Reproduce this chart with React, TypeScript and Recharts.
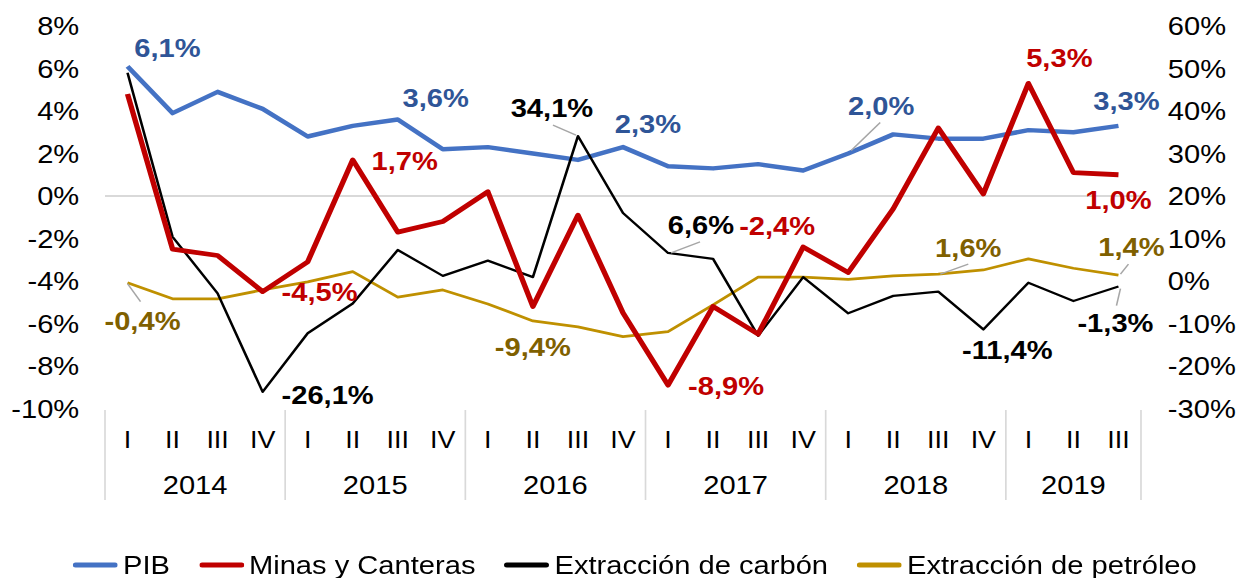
import React from 'react';
import { LineChart, Line, XAxis, YAxis, ReferenceLine, LabelList, Legend } from 'recharts';

// ---------- data ----------
const quarters = ['I', 'II', 'III', 'IV', 'I', 'II', 'III', 'IV', 'I', 'II', 'III', 'IV', 'I', 'II', 'III', 'IV', 'I', 'II', 'III', 'IV', 'I', 'II', 'III'];
const years = ['2014', '2014', '2014', '2014', '2015', '2015', '2015', '2015', '2016', '2016', '2016', '2016', '2017', '2017', '2017', '2017', '2018', '2018', '2018', '2018', '2019', '2019', '2019'];
const pib = [6.1, 3.9, 4.9, 4.1, 2.8, 3.3, 3.6, 2.2, 2.3, 2.0, 1.7, 2.3, 1.4, 1.3, 1.5, 1.2, 2.0, 2.9, 2.7, 2.7, 3.1, 3.0, 3.3];
const minas = [4.8, -2.5, -2.8, -4.5, -3.1, 1.7, -1.7, -1.2, 0.2, -5.2, -0.9, -5.5, -8.9, -5.2, -6.5, -2.4, -3.6, -0.6, 3.2, 0.1, 5.3, 1.1, 1.0];
const carbon = [49.0, 10.4, -2.9, -26.1, -12.3, -5.3, 7.3, 1.2, 4.8, 0.9, 34.1, 16.0, 6.6, 5.2, -12.9, 0.9, -7.6, -3.5, -2.5, -11.4, -0.4, -4.7, -1.3];
const petroleo = [-0.4, -4.2, -4.2, -2.1, -0.2, 2.2, -3.8, -2.1, -5.4, -9.4, -10.8, -13.1, -11.9, -5.6, 0.9, 0.9, 0.4, 1.2, 1.6, 2.6, 5.2, 3.0, 1.4];
const leftTicks = [-10, -8, -6, -4, -2, 0, 2, 4, 6, 8];
const rightTicks = [-30, -20, -10, 0, 10, 20, 30, 40, 50, 60];
const seriesNames = ['PIB', 'Minas y Canteras', 'Extracción de carbón', 'Extracción de petróleo'];

const data = quarters.map((q, i) => ({
  q,
  year: years[i],
  pib: pib[i],
  minas: minas[i],
  carbon: carbon[i],
  petroleo: petroleo[i],
}));

// ---------- layout / style ----------
const S = 1.12; // horizontal stretch of the reference
const FULL_W = 1237;
const H = 578;
const CW = FULL_W / S;
const PLOT_L = 105 / S;
const PLOT_R = 1141 / S;
const BAND = (PLOT_R - PLOT_L) / quarters.length;
const FONT = '"Liberation Sans", Arial, Helvetica, sans-serif';

const COLORS = {
  pib: '#4472C4',
  pibLabel: '#2F5597',
  minas: '#C00000',
  carbon: '#000000',
  petroleo: '#BF9000',
  petroleoLabel: '#7F6000',
  grid: '#D9D9D9',
  leader: '#A6A6A6',
};

type LabelCfg = { dx: number; dy: number; leader?: [number, number, number, number] };

const pibLabels: Record<number, LabelCfg> = {
  0: { dx: 40, dy: -18 },
  6: { dx: 38, dy: -21 },
  11: { dx: 25, dy: -23 },
  16: { dx: 33, dy: -47, leader: [3, -3, 32, -31] },
  22: { dx: 8, dy: -25 },
};
const minasLabels: Record<number, LabelCfg> = {
  3: { dx: 57, dy: 0 },
  5: { dx: 52, dy: 1 },
  12: { dx: 58, dy: 1 },
  15: { dx: -26, dy: -21 },
  20: { dx: 31, dy: -25 },
  22: { dx: 0, dy: 25 },
};
const carbonLabels: Record<number, LabelCfg> = {
  3: { dx: 65, dy: 3 },
  10: { dx: -26, dy: -28, leader: [-2, -1, -25, -11] },
  12: { dx: 33, dy: -28, leader: [3, 0, 32, -11] },
  19: { dx: 24, dy: 21 },
  22: { dx: -3, dy: 37, leader: [2, 2, -2, 19] },
};
const petroleoLabels: Record<number, LabelCfg> = {
  0: { dx: 15, dy: 38, leader: [0, 1, 13, 19] },
  9: { dx: 0, dy: 26 },
  18: { dx: 30, dy: -26, leader: [2, 0, 30, -10] },
  22: { dx: 13, dy: -28, leader: [2, -1, 10, -11] },
};

const fmt = (v: number) => `${v.toFixed(1).replace('.', ',')}%`;

const makeLabel = (cfg: Record<number, LabelCfg>, values: number[], color: string) => (props: any) => {
  const index = props.index;
  const c = cfg[index];
  if (!c) return null;
  const x = props.x ?? props.viewBox?.x;
  const y = props.y ?? props.viewBox?.y;
  if (x == null || y == null) return null;
  return (
    <g key={`lbl-${index}`}>
      {c.leader && (
        <line
          x1={x + c.leader[0] / S}
          y1={y + c.leader[1]}
          x2={x + c.leader[2] / S}
          y2={y + c.leader[3]}
          stroke={COLORS.leader}
          strokeWidth={1.4}
        />
      )}
      <text
        x={x + c.dx / S}
        y={y + c.dy}
        textAnchor="middle"
        dominantBaseline="central"
        fill={color}
        fontWeight="bold"
        fontSize={26}
        fontFamily={FONT}
      >
        {fmt(values[index])}
      </text>
    </g>
  );
};

const QuarterTick = (props: any) => {
  const { x, y, index } = props;
  const label = quarters[index];
  const yr = years[index];
  const isFirst = index === 0 || years[index - 1] !== yr;
  const count = years.filter((v) => v === yr).length;
  const isLast = index === quarters.length - 1;
  return (
    <g>
      <text x={x} y={y + 31.5} textAnchor="middle" dominantBaseline="central" fontSize={24} fontFamily={FONT} fill="#000">
        {label}
      </text>
      {isFirst && (
        <>
          <line x1={x - BAND / 2} y1={y + 1.5} x2={x - BAND / 2} y2={y + 91.5} stroke={COLORS.grid} strokeWidth={1.5} />
          <text
            x={x + ((count - 1) * BAND) / 2}
            y={y + 76.5}
            textAnchor="middle"
            dominantBaseline="central"
            fontSize={26}
            fontFamily={FONT}
            fill="#000"
          >
            {yr}
          </text>
        </>
      )}
      {isLast && <line x1={x + BAND / 2} y1={y + 1.5} x2={x + BAND / 2} y2={y + 91.5} stroke={COLORS.grid} strokeWidth={1.5} />}
    </g>
  );
};

const legendColors = [COLORS.pib, COLORS.minas, COLORS.carbon, COLORS.petroleo];

const LegendContent = () => (
  <div
    style={{
      display: 'flex',
      alignItems: 'center',
      fontFamily: FONT,
      fontSize: 26,
      color: '#000',
      lineHeight: '30px',
      whiteSpace: 'nowrap',
    }}
  >
    {seriesNames.map((name, i) => (
      <div key={name} style={{ display: 'flex', alignItems: 'center', marginRight: 29 / S }}>
        <svg width={45 / S} height={8} style={{ display: 'block' }}>
          <line x1={2.5} y1={4} x2={45 / S - 2.5} y2={4} stroke={legendColors[i]} strokeWidth={5} strokeLinecap="round" />
        </svg>
        <span style={{ marginLeft: 5 / S }}>{name}</span>
      </div>
    ))}
  </div>
);

export default function App() {
  return (
    <div
      style={{
        position: 'absolute',
        left: 0,
        top: 0,
        width: CW,
        height: H,
        transform: `scaleX(${S})`,
        transformOrigin: '0 0',
        fontFamily: FONT,
        background: '#fff',
      }}
    >
      <LineChart width={CW} height={H} data={data} margin={{ top: 26, right: 0, bottom: 74.5, left: 0 }}>
        <XAxis
          dataKey="q"
          height={95}
          axisLine={false}
          tickLine={false}
          tickSize={0}
          tickMargin={0}
          interval={0}
          padding={{ left: BAND / 2, right: BAND / 2 }}
          tick={(p: any) => <QuarterTick {...p} />}
        />
        <YAxis
          yAxisId="left"
          orientation="left"
          width={PLOT_L}
          domain={[-10, 8]}
          ticks={leftTicks}
          interval={0}
          axisLine={false}
          tickLine={false}
          tickSize={0}
          tickMargin={23}
          tick={{ fontSize: 26, fill: '#000', fontFamily: FONT }}
          tickFormatter={(v: number) => `${v}%`}
        />
        <YAxis
          yAxisId="right"
          orientation="right"
          width={CW - PLOT_R}
          domain={[-30, 60]}
          ticks={rightTicks}
          interval={0}
          axisLine={false}
          tickLine={false}
          tickSize={0}
          tickMargin={24}
          tick={{ fontSize: 26, fill: '#000', fontFamily: FONT }}
          tickFormatter={(v: number) => `${v}%`}
        />
        <ReferenceLine yAxisId="left" y={0} stroke={COLORS.grid} strokeWidth={2} />
        <Line
          yAxisId="left"
          dataKey="pib"
          name={seriesNames[0]}
          stroke={COLORS.pib}
          strokeWidth={4.5}
          strokeLinejoin="round"
          dot={false}
          isAnimationActive={false}
        >
          <LabelList dataKey="pib" content={makeLabel(pibLabels, pib, COLORS.pibLabel)} />
        </Line>
        <Line
          yAxisId="right"
          dataKey="petroleo"
          name={seriesNames[3]}
          stroke={COLORS.petroleo}
          strokeWidth={2.7}
          strokeLinejoin="round"
          dot={false}
          isAnimationActive={false}
        >
          <LabelList dataKey="petroleo" content={makeLabel(petroleoLabels, petroleo, COLORS.petroleoLabel)} />
        </Line>
        <Line
          yAxisId="right"
          dataKey="carbon"
          name={seriesNames[2]}
          stroke={COLORS.carbon}
          strokeWidth={2.3}
          strokeLinejoin="round"
          dot={false}
          isAnimationActive={false}
        >
          <LabelList dataKey="carbon" content={makeLabel(carbonLabels, carbon, COLORS.carbon)} />
        </Line>
        <Line
          yAxisId="left"
          dataKey="minas"
          name={seriesNames[1]}
          stroke={COLORS.minas}
          strokeWidth={4.8}
          strokeLinejoin="round"
          dot={false}
          isAnimationActive={false}
        >
          <LabelList dataKey="minas" content={makeLabel(minasLabels, minas, COLORS.minas)} />
        </Line>
        <Legend
          verticalAlign="middle"
          align="center"
          layout="horizontal"
          wrapperStyle={{ left: 73 / S, top: 550, width: 1160 / S, height: 30 }}
          content={() => <LegendContent />}
        />
      </LineChart>
    </div>
  );
}
